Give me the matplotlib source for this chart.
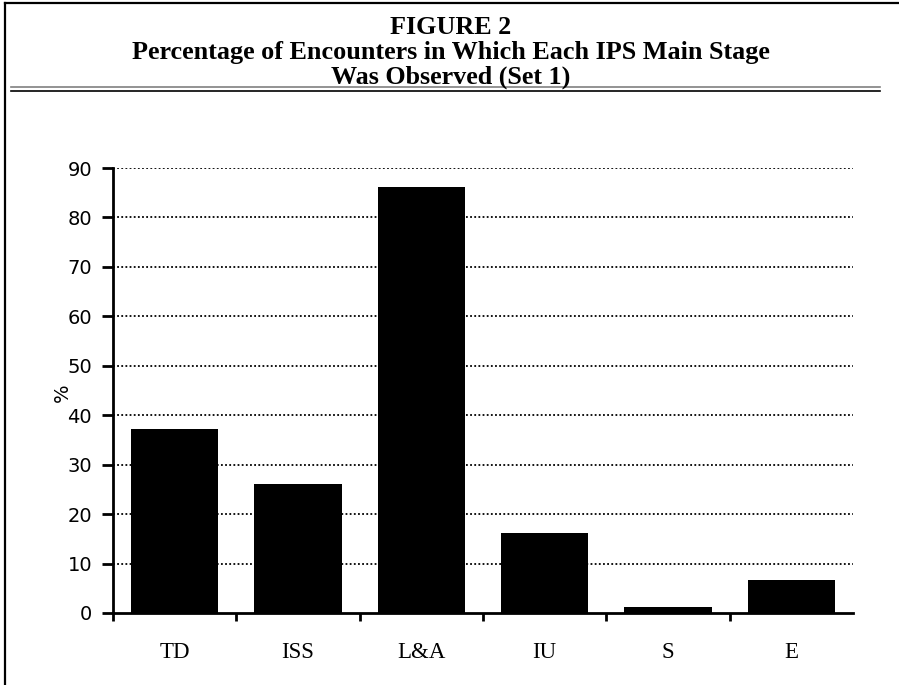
import numpy as np
import matplotlib.pyplot as plt
from matplotlib.lines import Line2D

# --- Datos ---
etapas = ['TD', 'ISS', 'L&A', 'IU', 'S', 'E']
porcentajes = [37.2, 26.1, 86.2, 16.2, 1.2, 6.7]
y_ticks = [0, 10, 20, 30, 40, 50, 60, 70, 80, 90]

titulo = ['FIGURE 2',
          'Percentage of Encounters in Which Each IPS Main Stage',
          'Was Observed (Set 1)']

W, H = 899, 685
fig = plt.figure(figsize=(W / 100, H / 100), dpi=100)

# Marco exterior (arriba e izquierda)
fig.add_artist(Line2D([5 / W, 1], [1 - 3 / H, 1 - 3 / H], color='black', lw=1.6))
fig.add_artist(Line2D([5 / W, 5 / W], [0, 1 - 3 / H], color='black', lw=1.6))

# Doble línea bajo el título
fig.add_artist(Line2D([11 / W, 880 / W], [1 - 87 / H, 1 - 87 / H], color='#808080', lw=1.2))
fig.add_artist(Line2D([11 / W, 880 / W], [1 - 90.5 / H, 1 - 90.5 / H], color='black', lw=1.2))

# Título: una línea de texto por renglón
for i, linea in enumerate(titulo):
    fig.text(451 / W, 1 - (25 + 25 * i) / H, linea, ha='center', va='center_baseline',
             family='Liberation Serif', fontweight='bold', fontsize=18.8)

# --- Ejes ---
ax = fig.add_axes([113 / W, 1 - 613 / H, 740 / W, 445 / H])
x = np.arange(len(etapas))
ax.bar(x, porcentajes, width=0.71, color='black', zorder=3)

ax.set_xlim(-0.5, len(etapas) - 0.5)
ax.set_ylim(0, 90)
ax.set_yticks(y_ticks)
ax.set_yticklabels([str(v) for v in y_ticks], fontsize=14, family='DejaVu Sans')
ax.tick_params(axis='y', direction='out', length=8, width=2, pad=7)

# Marcas del eje x en los límites de categoría, etiquetas en el centro
ax.set_xticks(np.arange(len(etapas)) - 0.5)
ax.set_xticklabels([''] * len(etapas))
ax.set_xticks(x, minor=True)
ax.set_xticklabels(etapas, minor=True, family='Liberation Serif', fontsize=16.5)
ax.tick_params(axis='x', which='major', direction='out', length=6, width=2)
ax.tick_params(axis='x', which='minor', length=0, pad=21)

for v in y_ticks[1:]:
    ax.axhline(v, color='black', lw=1.3, linestyle=(0, (1, 1.3)), zorder=1)

for lado in ['top', 'right']:
    ax.spines[lado].set_visible(False)
for lado in ['left', 'bottom']:
    ax.spines[lado].set_linewidth(2)

ax.set_ylabel('%', fontsize=14)
ax.yaxis.set_label_coords(-0.055, 0.494)

plt.savefig('out.png', dpi=100)
plt.close()
